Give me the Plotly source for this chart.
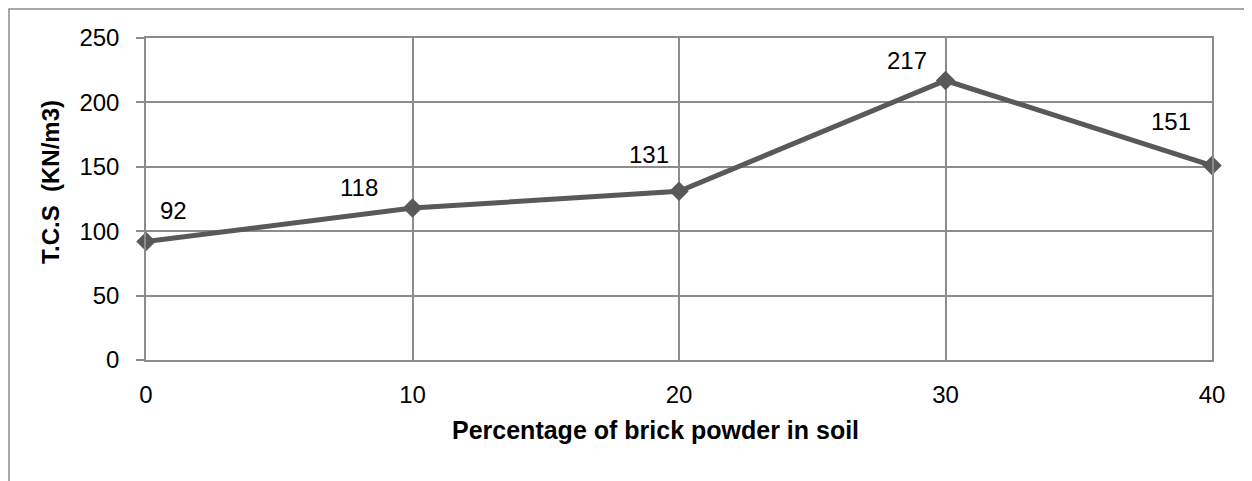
import plotly.graph_objects as go

# brick powder content (%) and T.C.S values
brick_pct = [0, 10, 20, 30, 40]
tcs_values = [92, 118, 131, 217, 151]
y_ticks = [0, 50, 100, 150, 200, 250]

# label offsets in pixels (Excel-style placement)
label_dx = [27, -54, -30, -39, -41]
label_dy = [-31, -21, -37, -20, -44]

GRID = "#8c8c8c"
LINE = "#595959"
FONT = "Liberation Sans, Arial, sans-serif"

# page body adds 8px, so the figure is sized to end at the window edge
W, H = 1244, 473
ML, MR, MT, MB = 138, 40, 30, 121
PW, PH = W - ML - MR, H - MT - MB

fig = go.Figure()

fig.add_trace(
    go.Scatter(
        x=brick_pct,
        y=tcs_values,
        mode="lines+markers",
        line=dict(color=LINE, width=5),
        marker=dict(symbol="diamond", size=15, color=LINE),
        cliponaxis=False,
        hoverinfo="x+y",
        showlegend=False,
    )
)

for x, y, dx, dy in zip(brick_pct, tcs_values, label_dx, label_dy):
    fig.add_annotation(
        x=x,
        y=y,
        text=str(y),
        showarrow=False,
        xshift=dx,
        yshift=-dy,
        font=dict(family=FONT, size=24, color="black"),
    )

# axis titles placed like the Excel original (centred on chart area)
fig.add_annotation(
    x=(655 - 146) / PW,
    y=-(430 - 360) / PH,
    xref="paper",
    yref="paper",
    xanchor="center",
    yanchor="middle",
    text="<b>Percentage of brick powder in soil</b>",
    showarrow=False,
    font=dict(family=FONT, size=25, color="black"),
)
fig.add_annotation(
    x=-(146 - 50) / PW,
    y=(360 - 182) / PH,
    xref="paper",
    yref="paper",
    xanchor="center",
    yanchor="middle",
    text="<b>T.C.S  (KN/m3)</b>",
    textangle=-90,
    showarrow=False,
    font=dict(family=FONT, size=24, color="black"),
)

# outer chart frame (runs off the page on right/bottom)
fig.add_shape(
    type="rect",
    xref="paper",
    yref="paper",
    x0=-(ML - 1) / PW,
    x1=1.06,
    y0=-0.6,
    y1=1 + (MT - 1) / PH,
    line=dict(color=GRID, width=1.5),
    layer="below",
)

fig.update_layout(
    width=W,
    height=H,
    margin=dict(l=ML, r=MR, t=MT, b=MB),
    paper_bgcolor="white",
    plot_bgcolor="white",
    font=dict(family=FONT, size=24, color="black"),
    xaxis=dict(
        range=[0, 40],
        tickvals=brick_pct,
        showgrid=True,
        gridcolor=GRID,
        gridwidth=1.5,
        showline=True,
        linecolor=GRID,
        linewidth=1.5,
        mirror=True,
        zeroline=False,
        ticks="",
        ticklabelstandoff=12,
    ),
    yaxis=dict(
        range=[0, 250],
        tickvals=y_ticks,
        showgrid=True,
        gridcolor=GRID,
        gridwidth=1.5,
        showline=True,
        linecolor=GRID,
        linewidth=1.5,
        mirror=True,
        zeroline=False,
        ticks="outside",
        ticklen=8,
        tickcolor=GRID,
        tickwidth=1.5,
        ticklabelstandoff=12,
    ),
)

fig.write_html("out.html")
